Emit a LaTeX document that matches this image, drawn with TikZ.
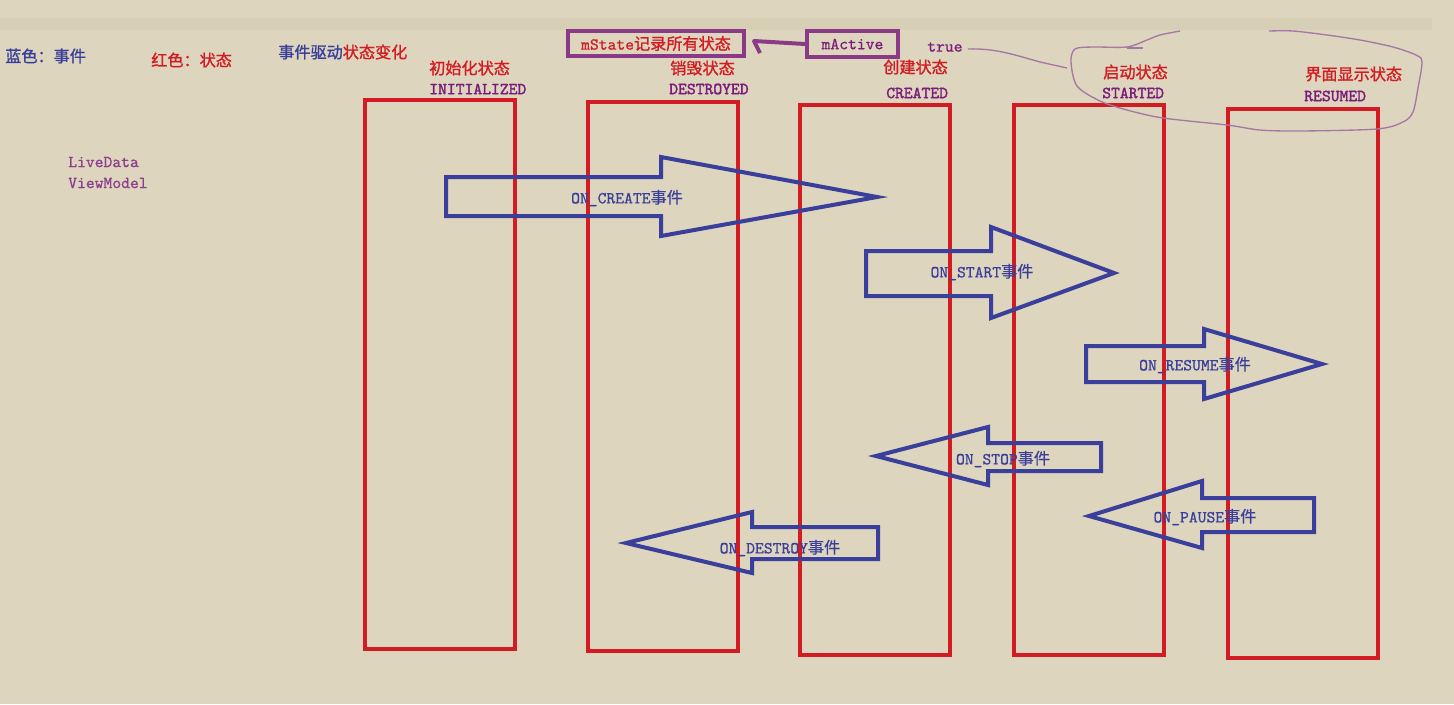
\documentclass[tikz,border=0pt]{standalone}
\usepackage{fontspec}
\usetikzlibrary{calc}
\setmainfont{Liberation Mono}
\newfontfamily\cjk[Scale=1.1,FakeBold=1.2]{Noto Sans CJK SC}
\newfontfamily\cjkr[Scale=1.1,FakeBold=0.6]{Noto Sans CJK SC}
\newfontfamily\mono[Extension=.otf,FakeBold=0.8]{lmmono10-regular}
\newfontfamily\monob[Extension=.otf,FakeBold=1.8]{lmmono10-regular}
\definecolor{bg}{HTML}{DDD5BD}
\definecolor{band}{HTML}{D6CEB5}
\definecolor{sred}{HTML}{D21B23}
\definecolor{eblue}{HTML}{3A3F9B}
\definecolor{spurple}{HTML}{7B1B7B}
\definecolor{bpurple}{HTML}{8B3A88}
\definecolor{lpurple}{HTML}{8D3F8D}
\definecolor{loopc}{HTML}{A676A6}
\tikzset{
  lbl/.style={inner sep=0pt, anchor=west, font=\fontsize{12.6}{14}\selectfont},
  cjklbl/.style={lbl, font=\fontsize{11}{13}\selectfont\cjk},
  stname/.style={lbl, text=spurple, font=\fontsize{12.6}{14}\selectfont\monob},
  statebox/.style={draw=sred, line width=3pt},
  evarrow/.style={draw=eblue, line width=3pt, line join=miter},
  evlbl/.style={inner sep=0pt, text=eblue, font=\fontsize{12.6}{14}\selectfont\mono},
  pbox/.style={draw=bpurple, line width=3pt, inner sep=0pt},
  loopline/.style={draw=loopc, line width=1pt}
}
\begin{document}
\begin{tikzpicture}[x=0.75pt, y=-0.75pt]
\useasboundingbox (0,0) rectangle (1454,704);
\fill[bg] (0,0) rectangle (1454,704);
\fill[band] (0,18) rectangle (1432,30);

% legend
\node[cjklbl, text=eblue] (leg1) at (5,56) {蓝色：事件};
\node[cjklbl, text=sred] (leg2) at (151,60) {红色：状态};
\node[cjklbl] (leg3) at (278,52) {\textcolor{eblue}{事件驱动}\textcolor{sred}{状态变化}};
\node[lbl, text=lpurple, font=\fontsize{12.6}{14}\selectfont\mono] (ld) at (68,162) {LiveData};
\node[lbl, text=lpurple, font=\fontsize{12.6}{14}\selectfont\mono] (vm) at (68,183) {ViewModel};

% state rectangles
\draw[statebox] (365,100) rectangle (515,649);
\draw[statebox] (588,102) rectangle (738,651);
\draw[statebox] (800,105) rectangle (950,655);
\draw[statebox] (1014,105) rectangle (1164,655);
\draw[statebox] (1228,109) rectangle (1378,658);

% state labels
\node[cjklbl, text=sred] (c1) at (429,68) {初始化状态};
\node[stname] (s1) at (429,89) {INITIALIZED};
\node[cjklbl, text=sred] (c2) at (670,68) {销毁状态};
\node[stname] (s2) at (669,89) {DESTROYED};
\node[cjklbl, text=sred] (c3) at (883,67) {创建状态};
\node[stname] (s3) at (886,93) {CREATED};
\node[cjklbl, text=sred] (c4) at (1103,72) {启动状态};
\node[stname] (s4) at (1102,93) {STARTED};
\node[cjklbl, text=sred] (c5) at (1305,74) {界面显示状态};
\node[stname] (s5) at (1304,96) {RESUMED};

% mState / mActive
\node[pbox, minimum width=132pt, minimum height=18.75pt, text=sred, font=\fontsize{12.6}{14}\selectfont\mono] (mstate) at (656,43.5) {mState{\fontsize{11}{13}\selectfont\cjk 记录所有状态}};
\node[pbox, minimum width=68.25pt, minimum height=19.5pt, text=spurple, font=\fontsize{12.6}{14}\selectfont\mono] (mactive) at (852.5,44) {mActive};
\coordinate (mtip) at ($(mstate.east)+(8,-2.5)$);
\draw[draw=bpurple, line width=3pt, line join=round] (mactive.west) -- (mtip) -- ++(6,12);
\node[lbl, text=spurple, font=\fontsize{12.6}{14}\selectfont\mono] (tru) at (927,47) {true};

% freehand loop
\draw[loopline] ($(tru.east)+(5,2)$) .. controls (995,48) and (1015,55) .. (1040,62) -- (1067,68);
\draw[loopline] plot[smooth, tension=0.5] coordinates {(1180,31) (1160,35) (1147,40) (1127,47) (1093,47) (1075,49) (1071,62) (1077,86) (1100,101) (1127,110) (1163,118) (1227,125) (1260,130) (1300,131) (1377,129) (1403,122) (1413,112) (1418,88) (1422,62) (1416,55) (1393,47) (1360,40) (1327,35) (1293,31) (1269,31)};
\draw[loopline] (1127,48) -- (1143,48);

% event arrows
\draw[evarrow] (446,177) -- (661,177) -- (661,157) -- (877,197) -- (661,236) -- (661,216) -- (446,216) -- cycle;
\node[evlbl] (e1) at (627,198) {ON\_CREATE{\fontsize{11}{13}\selectfont\cjkr 事件}};

\draw[evarrow] (866,251) -- (991,251) -- (991,227) -- (1114,273) -- (991,318) -- (991,296) -- (866,296) -- cycle;
\node[evlbl] (e2) at (982,272) {ON\_START{\fontsize{11}{13}\selectfont\cjkr 事件}};

\draw[evarrow] (1086,346) -- (1204,346) -- (1204,329) -- (1322,364) -- (1204,399) -- (1204,382) -- (1086,382) -- cycle;
\node[evlbl] (e3) at (1195,365) {ON\_RESUME{\fontsize{11}{13}\selectfont\cjkr 事件}};

\draw[evarrow] (1101,443) -- (988,443) -- (988,427) -- (876,456) -- (988,485) -- (988,471) -- (1101,471) -- cycle;
\node[evlbl] (e4) at (1003,459) {ON\_STOP{\fontsize{11}{13}\selectfont\cjkr 事件}};

\draw[evarrow] (1314,498) -- (1202,498) -- (1202,481) -- (1089,516) -- (1202,548) -- (1202,532) -- (1314,532) -- cycle;
\node[evlbl] (e5) at (1205,517) {ON\_PAUSE{\fontsize{11}{13}\selectfont\cjkr 事件}};

\draw[evarrow] (878,527) -- (752,527) -- (752,512) -- (626,543) -- (752,573) -- (752,559) -- (878,559) -- cycle;
\node[evlbl] (e6) at (780,548) {ON\_DESTROY{\fontsize{11}{13}\selectfont\cjkr 事件}};
\end{tikzpicture}
\end{document}
